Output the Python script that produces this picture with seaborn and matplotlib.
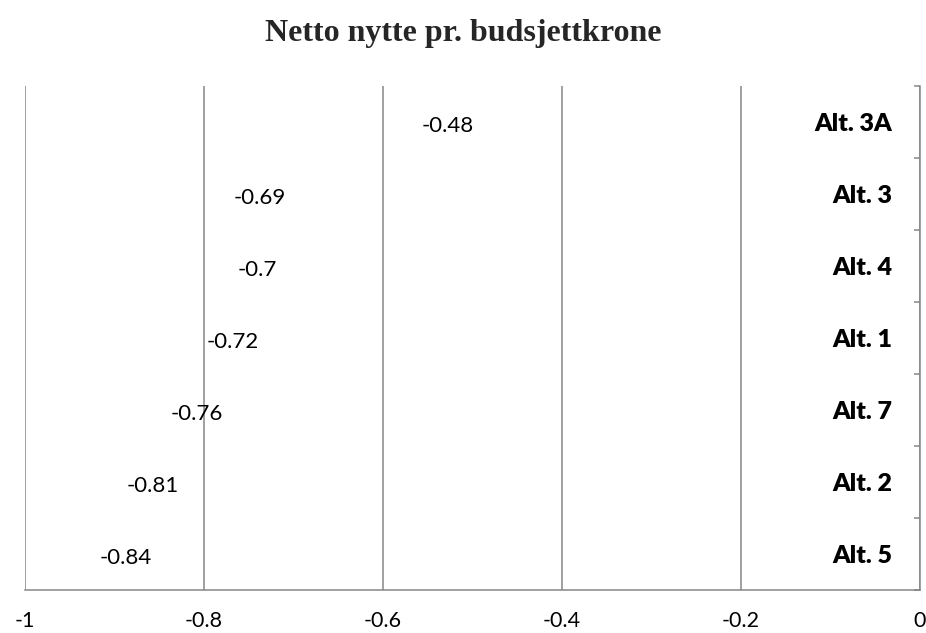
import matplotlib
matplotlib.use("Agg")
import matplotlib.pyplot as plt
import seaborn as sns
import pandas as pd
import numpy as np
from matplotlib.ticker import FixedLocator

categories = ["Alt. 3A", "Alt. 3", "Alt. 4", "Alt. 1", "Alt. 7", "Alt. 2", "Alt. 5"]
values = [-0.48, -0.69, -0.70, -0.72, -0.76, -0.81, -0.84]
x_ticks = [-1, -0.8, -0.6, -0.4, -0.2, 0]
x_tick_labels = ["-1", "-0.8", "-0.6", "-0.4", "-0.2", "0"]
title = "Netto nytte pr. budsjettkrone"

sns.set_theme(style="white")
plt.rcParams['font.family'] = ['Lato', 'DejaVu Sans']

df = pd.DataFrame({"cat": categories, "val": values})

fig = plt.figure(figsize=(9.26, 6.33), dpi=100)
ax = fig.add_axes([25/926, 1 - 590/633, (920 - 25)/926, (590 - 86)/633])

sns.barplot(data=df, y="cat", x="val", orient="h", ax=ax, color="white", width=0.6)
for p in ax.patches:
    p.set_alpha(0)

grid_c = "#868686"
ax.set_xlim(-1, 0)
ax.set_ylim(len(categories) - 0.5, -0.5)
ax.set_xticks(x_ticks)
ax.set_xticklabels(x_tick_labels, fontsize=15.5, color="black")
ax.xaxis.grid(True, color=grid_c, linewidth=1.1)
ax.yaxis.grid(False)
ax.tick_params(axis="x", direction="out", length=5, width=1.1, color=grid_c, pad=10)

for s in ["left", "top"]:
    ax.spines[s].set_visible(False)
for s in ["bottom", "right"]:
    ax.spines[s].set_color(grid_c)
    ax.spines[s].set_linewidth(1.1)

ax.yaxis.tick_right()
ax.yaxis.set_label_position("right")
ax.set_yticks(range(len(categories)))
ax.set_yticklabels(categories, fontsize=18, fontweight="heavy", color="black")
ax.tick_params(axis="y", which="major", length=0, pad=-20)
for lbl in ax.get_yticklabels():
    lbl.set_horizontalalignment("right")
ax.yaxis.set_minor_locator(FixedLocator(np.arange(-0.5, len(categories), 1.0)))
ax.tick_params(axis="y", which="minor", direction="in", length=4.5, width=1.1, color=grid_c, right=True, left=False)

ax.set_xlabel("")
ax.set_ylabel("")

for c in ax.containers:
    anns = ax.bar_label(c, fmt="%g", padding=12, fontsize=16, color="black")
    for a in anns:
        x0, y0 = a.xyann
        a.xyann = (x0, y0 - 3)

fig.text(0.5, 1 - 33/633, title, ha="center", va="center", fontsize=23,
         fontweight="bold", family=["Liberation Serif", "DejaVu Serif"])

fig.savefig("out.png", dpi=100, facecolor="white")
